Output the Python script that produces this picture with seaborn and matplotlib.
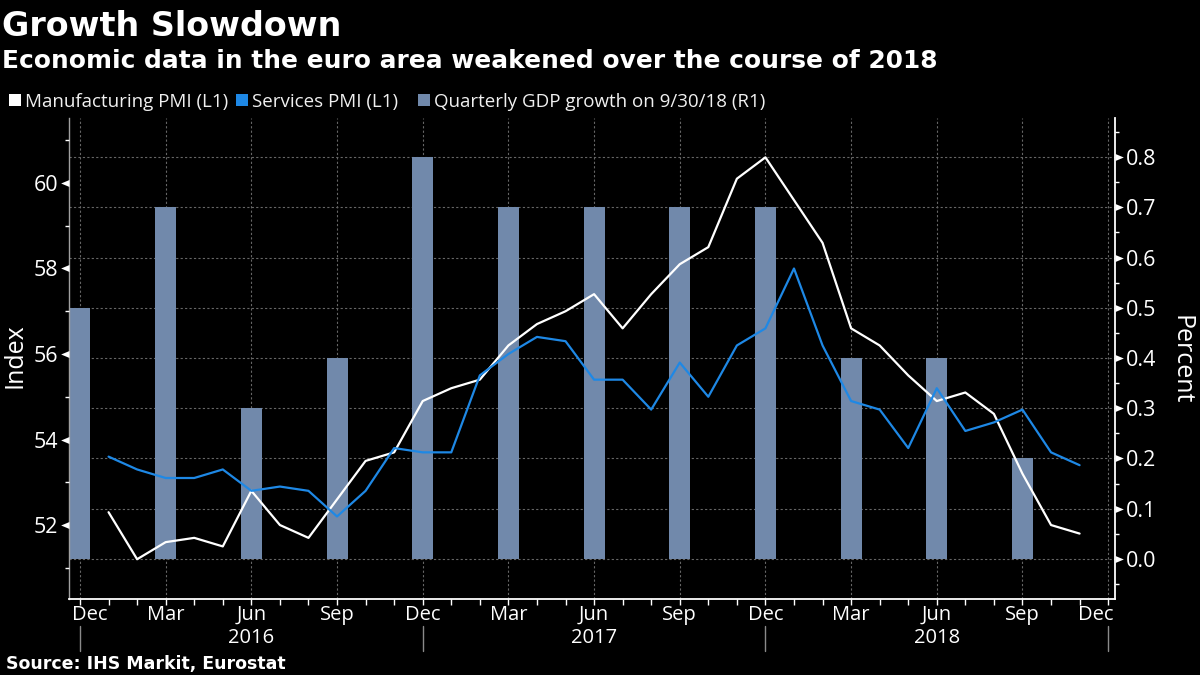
import matplotlib
matplotlib.use("Agg")
import matplotlib.pyplot as plt
from matplotlib.ticker import FixedLocator, FixedFormatter
from matplotlib.patches import Rectangle
from matplotlib.path import Path
from matplotlib.transforms import ScaledTranslation
import seaborn as sns
import pandas as pd

# Data ------------------------------------------------------------------
months_line = list(range(1, 36))  # months after Dec 2015
manufacturing = [52.3, 51.2, 51.6, 51.7, 51.5, 52.8, 52.0, 51.7, 52.6, 53.5, 53.7, 54.9,
                 55.2, 55.4, 56.2, 56.7, 57.0, 57.4, 56.6, 57.4, 58.1, 58.5, 60.1, 60.6,
                 59.6, 58.6, 56.6, 56.2, 55.5, 54.9, 55.1, 54.6, 53.2, 52.0, 51.8]
services = [53.6, 53.3, 53.1, 53.1, 53.3, 52.8, 52.9, 52.8, 52.2, 52.8, 53.8, 53.7,
            53.7, 55.5, 56.0, 56.4, 56.3, 55.4, 55.4, 54.7, 55.8, 55.0, 56.2, 56.6,
            58.0, 56.2, 54.9, 54.7, 53.8, 55.2, 54.2, 54.4, 54.7, 53.7, 53.4]
months_bar = [0, 3, 6, 9, 12, 15, 18, 21, 24, 27, 30, 33]
gdp = [0.5, 0.7, 0.3, 0.4, 0.8, 0.7, 0.7, 0.7, 0.7, 0.4, 0.4, 0.2]
quarter_labels = ["Dec", "Mar", "Jun", "Sep", "Dec", "Mar", "Jun", "Sep",
                  "Dec", "Mar", "Jun", "Sep", "Dec"]
quarter_ticks = list(range(0, 37, 3))
years = ["2016", "2017", "2018"]
year_centers = [6, 18, 30]
year_breaks = [12, 24, 36]
left_major = [52, 54, 56, 58, 60]
left_minor = [51, 53, 55, 57, 59, 61]
right_major = [0.0, 0.1, 0.2, 0.3, 0.4, 0.5, 0.6, 0.7, 0.8]
right_minor = [-0.05, 0.05, 0.15, 0.25, 0.35, 0.45, 0.55, 0.65, 0.75, 0.85]
legend_names = ["Manufacturing PMI (L1)", "Services PMI (L1)", "Quarterly GDP growth on 9/30/18 (R1)"]

WHITE, BLUE, BAR = "#ffffff", "#1e88e5", "#7189ab"
GRID = "#666666"
SANS = "Open Sans"
W, H = 1200, 675
sns.set_theme(style="dark")
plt.rcParams["font.family"] = [SANS, "DejaVu Sans"]

fig = plt.figure(figsize=(W / 100, H / 100), dpi=100, facecolor="black")
L, R, T, B = 69, 1115, 118, 599
XMIN, XMAX = -0.385, 36.24
ax2 = fig.add_axes([L / W, 1 - B / H, (R - L) / W, (B - T) / H])
ax = ax2.twinx()

ax2.set_facecolor("black")
sns.barplot(x=months_bar, y=gdp, native_scale=True, width=0.245, color=BAR,
            saturation=1, linewidth=0, edgecolor="none", ax=ax2, zorder=2)
ax2.set_xlim(XMIN, XMAX)
ax2.set_ylim(-0.08, 0.878)
ax2.set_xlabel("")
ax2.set_ylabel("")

df = pd.DataFrame({"m": months_line, "man": manufacturing, "srv": services})
sns.lineplot(data=df, x="m", y="man", color=WHITE, lw=1.6, ax=ax, errorbar=None)
sns.lineplot(data=df, x="m", y="srv", color=BLUE, lw=1.6, ax=ax, errorbar=None)
ax.set_xlim(XMIN, XMAX)
ax.set_ylim(50.27, 61.52)
ax.set_xlabel("")
ax.set_ylabel("")
ax.set_zorder(ax2.get_zorder() + 1)
ax.patch.set_visible(False)
ax.grid(False)

# Left scale on the left, right scale on the right
ax.yaxis.tick_left()
ax2.yaxis.tick_right()
ax.yaxis.set_major_locator(FixedLocator(left_major))
ax.yaxis.set_minor_locator(FixedLocator(left_minor))
ax2.yaxis.set_major_locator(FixedLocator(right_major))
ax2.yaxis.set_minor_locator(FixedLocator(right_minor))
ax2.yaxis.set_major_formatter(FixedFormatter([f"{v:.1f}" for v in right_major]))
ax.tick_params(axis="y", which="major", length=6, width=1, colors="white", labelsize=15.5, pad=2, left=True)
ax.tick_params(axis="y", which="minor", length=3, width=1, color="white", left=True)
ax2.tick_params(axis="y", which="major", length=6, width=1, colors="white", labelsize=15.5, pad=1.5, right=True)
ax2.tick_params(axis="y", which="minor", length=3, width=1, color="white", right=True)

# Small triangles as the major value ticks
tri_left = Path([(0, -0.42), (-1, 0), (0, 0.42), (0, -0.42)], closed=True)
tri_right = Path([(0, -0.42), (1, 0), (0, 0.42), (0, -0.42)], closed=True)
for tick in ax.yaxis.get_major_ticks():
    tick.tick1line.set(marker=tri_left, markersize=12, markerfacecolor="white", markeredgewidth=0)
for tick in ax2.yaxis.get_major_ticks():
    tick.tick2line.set(marker=tri_right, markersize=12, markerfacecolor="white", markeredgewidth=0)

ax2.xaxis.set_major_locator(FixedLocator(quarter_ticks))
ax2.xaxis.set_major_formatter(FixedFormatter(quarter_labels))
ax2.xaxis.set_minor_locator(FixedLocator(list(range(0, 37))))
ax2.tick_params(axis="x", which="major", length=4, width=1, colors="white", labelsize=14.5, pad=0, bottom=True)
ax2.tick_params(axis="x", which="minor", length=4, width=1, color="white", bottom=True)
ax.tick_params(axis="x", which="both", bottom=False, labelbottom=False)

# First and last quarter labels are held inside the axis span
labels = ax2.get_xticklabels()
labels[0].set_ha("left")
labels[0].set_transform(labels[0].get_transform() + ScaledTranslation(-8 / 100, 0, fig.dpi_scale_trans))
labels[-1].set_ha("right")
labels[-1].set_transform(labels[-1].get_transform() + ScaledTranslation(5 / 100, 0, fig.dpi_scale_trans))

ax2.grid(False)
ax2.set_axisbelow(True)
ax2.grid(True, axis="both", which="major", color=GRID, lw=0.8, ls=(0, (2, 2)))

for a in (ax, ax2):
    for s in a.spines.values():
        s.set_visible(False)
for s, col, lw in (("left", "#a0a0a0", 1), ("right", "#ffffff", 1.3), ("bottom", "#ffffff", 1.3)):
    ax2.spines[s].set_visible(True)
    ax2.spines[s].set_color(col)
    ax2.spines[s].set_linewidth(lw)
    ax2.spines[s].set_zorder(5)

# Year labels and separators
trans = ax2.get_xaxis_transform()
for c, y in zip(year_centers, years):
    ax2.text(c, (B - 638) / (B - T), y, transform=trans, color="white",
             fontsize=14.5, ha="center", va="center")
for b in [0] + year_breaks:
    ax2.plot([b, b], [(B - 626) / (B - T), (B - 651) / (B - T)], transform=trans,
             color="#8a8a8a", lw=1, clip_on=False)

ax.text(-0.052, 0.505, "Index", transform=ax.transAxes, color="white", fontsize=18,
        rotation=90, ha="center", va="center")
ax.text(1.0635, 0.497, "Percent", transform=ax.transAxes, color="white", fontsize=18,
        rotation=270, ha="center", va="center")

def px(x, y):
    return x / W, 1 - y / H

fig.text(*px(2, 26), "Growth Slowdown", color="white", fontsize=24, fontweight="bold",
         va="center", family="DejaVu Sans")
fig.text(*px(2, 61), "Economic data in the euro area weakened over the course of 2018",
         color="white", fontsize=17.9, fontweight="bold", va="center", family="DejaVu Sans")
fig.text(*px(6, 664), "Source: IHS Markit, Eurostat", color="white", fontsize=12.5,
         fontweight="bold", va="center", family="DejaVu Sans")

for x0, col, tx, name in zip([9, 236, 418], [WHITE, BLUE, BAR], [25, 252, 434], legend_names):
    fig.add_artist(Rectangle(px(x0, 106), 12 / W, 12 / H, transform=fig.transFigure, color=col, lw=0))
    fig.text(*px(tx, 102), name, color="#f0f0f0", fontsize=13.5, va="center")

fig.savefig("out.png", dpi=100, facecolor="black")
